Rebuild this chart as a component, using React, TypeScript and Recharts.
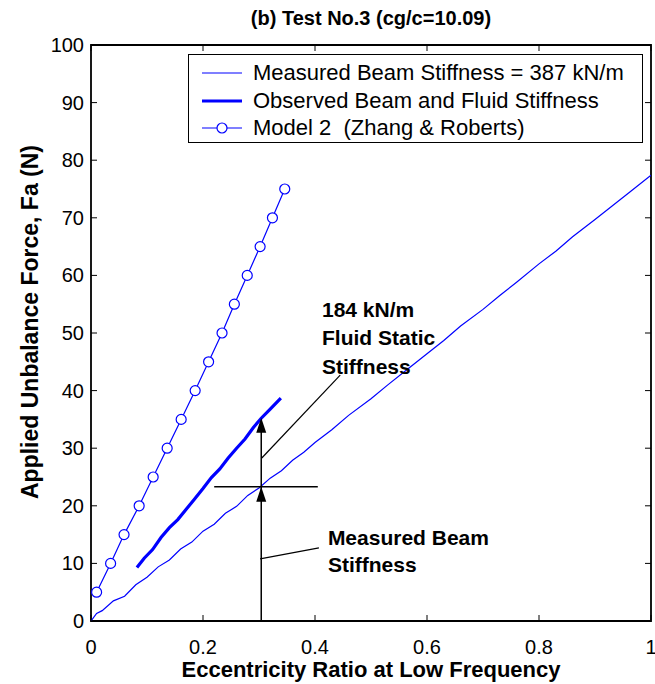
import React from 'react';
import { LineChart, Line, XAxis, YAxis, ReferenceArea, ReferenceLine, ReferenceDot } from 'recharts';

const W = 655;
const H = 684;
const PL = 91;
const PR = 651;
const PT = 45;
const PB = 621;
const FONT = "'Liberation Sans', Arial, Helvetica, sans-serif";
const BLUE = '#0000ff';

const titleText = '(b) Test No.3 (cg/c=10.09)';
const xLabelText = 'Eccentricity Ratio at Low Frequency';
const yLabelText = 'Applied Unbalance Force, Fa (N)';
const legendLabels = [
  'Measured Beam Stiffness = 387 kN/m',
  'Observed Beam and Fluid Stiffness',
  'Model 2  (Zhang & Roberts)',
];

const xTicks = [0, 0.2, 0.4, 0.6, 0.8, 1];
const yTicks = [0, 10, 20, 30, 40, 50, 60, 70, 80, 90, 100];

// Measured beam stiffness (thin line)
const measuredEcc = [0, 0.01, 0.02, 0.04, 0.06, 0.08, 0.1, 0.12, 0.14, 0.16, 0.18, 0.2, 0.22, 0.24, 0.26, 0.28, 0.3, 0.32, 0.34, 0.36, 0.38, 0.4, 0.43, 0.46, 0.5, 0.53, 0.56, 0.6, 0.63, 0.66, 0.7, 0.73, 0.76, 0.8, 0.83, 0.86, 0.9, 0.93, 0.96, 1.0];
const measuredForce = [0, 1.3, 1.8, 3.5, 4.3, 6.3, 7.6, 9.4, 10.6, 12.5, 13.7, 15.6, 16.8, 18.7, 19.9, 21.8, 23.1, 24.8, 26.1, 27.9, 29.3, 31.0, 33.2, 35.7, 38.6, 41.0, 43.3, 46.4, 48.7, 51.2, 54.1, 56.5, 58.8, 62.0, 64.2, 66.7, 69.7, 72.0, 74.3, 77.4];

// Observed beam and fluid stiffness (thick line)
const observedEcc = [0.082, 0.095, 0.11, 0.125, 0.14, 0.155, 0.17, 0.185, 0.2, 0.215, 0.23, 0.245, 0.26, 0.275, 0.29, 0.304, 0.32, 0.339];
const observedForce = [9.3, 10.9, 12.4, 14.5, 16.2, 17.6, 19.4, 21.2, 23.0, 24.9, 26.4, 28.3, 30.0, 31.6, 33.6, 35.2, 36.8, 38.7];

// Model 2 (Zhang & Roberts) with circle markers
const modelEcc = [0.01, 0.035, 0.059, 0.086, 0.111, 0.136, 0.161, 0.186, 0.21, 0.234, 0.256, 0.279, 0.302, 0.324, 0.346];
const modelForce = [5, 10, 15, 20, 25, 30, 35, 40, 45, 50, 55, 60, 65, 70, 75];

// annotation anchors (data coordinates)
const arrowEcc = 0.304;
const crossForce = 23.3;
const topForce = 35.3;
const hLineEcc = [0.22, 0.405];
const fluidLeader = [{ x: 0.305, y: 28.3 }, { x: 0.445, y: 42.7 }];
const beamLeader = [{ x: 0.302, y: 10.8 }, { x: 0.407, y: 12.7 }];
const fluidText = ['184 kN/m', 'Fluid Static', 'Stiffness'];
const fluidTextAt = { x: 0.4125, y: 52.8 };
const beamText = ['Measured Beam', 'Stiffness'];
const beamTextAt = { x: 0.423, y: 13.2 };

const zip = (xs: number[], ys: number[]) => xs.map((x, i) => ({ x, y: ys[i] }));
const measuredData = zip(measuredEcc, measuredForce);
const observedData = zip(observedEcc, observedForce);
const modelData = zip(modelEcc, modelForce);

const XTick = (p: any) => {
  const x = p.x;
  const v = p.payload.value;
  return (
    <g>
      <line x1={x} x2={x} y1={PB} y2={PB - 6} stroke="#000" strokeWidth={1} />
      <line x1={x} x2={x} y1={PT} y2={PT + 6} stroke="#000" strokeWidth={1} />
      <text x={x} y={654} textAnchor="middle" fontSize={20} fontFamily={FONT} fill="#000">
        {String(v)}
      </text>
    </g>
  );
};

const YTick = (p: any) => {
  const y = p.y;
  const v = p.payload.value;
  return (
    <g>
      <line x1={PL} x2={PL + 6} y1={y} y2={y} stroke="#000" strokeWidth={1} />
      <line x1={PR} x2={PR - 6} y1={y} y2={y} stroke="#000" strokeWidth={1} />
      <text x={84} y={y + 7} textAnchor="end" fontSize={20} fontFamily={FONT} fill="#000">
        {String(v)}
      </text>
    </g>
  );
};

const ArrowHead = (p: any) => (
  <path d={`M${p.cx},${p.cy} L${p.cx - 5},${p.cy + 15} L${p.cx + 5},${p.cy + 15} Z`} fill="#000" />
);

const MultiText = (lines: string[], gap: number) => (p: any) => (
  <text x={p.cx} y={p.cy} fontSize={21} fontWeight="bold" fontFamily={FONT} fill="#000">
    {lines.map((l, i) => (
      <tspan key={i} x={p.cx} dy={i === 0 ? 0 : gap}>
        {l}
      </tspan>
    ))}
  </text>
);

const CircleDot = (p: any) => (
  <circle cx={p.cx} cy={p.cy} r={5} fill="#fff" stroke={BLUE} strokeWidth={1.2} />
);

const LegendBox = () => {
  const rows = [18, 46, 73];
  return (
    <div
      style={{
        position: 'absolute',
        left: 188,
        top: 54,
        width: 455,
        height: 89,
        boxSizing: 'border-box',
        border: '1.6px solid #000',
        background: '#fff',
        fontFamily: FONT,
        fontSize: 22,
        color: '#000',
      }}
    >
      {legendLabels.map((lab, i) => (
        <div key={i} style={{ position: 'absolute', left: 0, top: rows[i] - 13, height: 26, width: 450 }}>
          <svg width={60} height={26} style={{ position: 'absolute', left: 0, top: 0 }}>
            <line x1={13} x2={53} y1={13} y2={13} stroke={BLUE} strokeWidth={i === 1 ? 3 : 1.2} />
            {i === 2 && <circle cx={33} cy={13} r={5} fill="#fff" stroke={BLUE} strokeWidth={1.2} />}
          </svg>
          <span style={{ position: 'absolute', left: 64, top: 0, lineHeight: '26px', whiteSpace: 'pre' }}>{lab}</span>
        </div>
      ))}
    </div>
  );
};

export default function App() {
  return (
    <div style={{ position: 'absolute', left: 0, top: 0, width: W, height: H, background: '#fff' }}>
      <LineChart width={W} height={H} margin={{ top: PT, right: W - PR, left: PL - 40, bottom: H - PB - 30 }}>
        <XAxis
          dataKey="x"
          type="number"
          domain={[0, 1]}
          ticks={xTicks}
          interval={0}
          allowDataOverflow
          axisLine={false}
          tickLine={false}
          height={30}
          tick={<XTick />}
        />
        <YAxis
          type="number"
          domain={[0, 100]}
          ticks={yTicks}
          interval={0}
          allowDataOverflow
          axisLine={false}
          tickLine={false}
          width={40}
          tick={<YTick />}
        />
        <ReferenceArea x1={0} x2={1} y1={0} y2={100} fill="none" stroke="#000" strokeWidth={1.8} fillOpacity={0} />
        <Line data={measuredData} dataKey="y" stroke={BLUE} strokeWidth={1.2} dot={false} isAnimationActive={false} />
        <Line data={observedData} dataKey="y" stroke={BLUE} strokeWidth={3.2} dot={false} isAnimationActive={false} />
        <Line data={modelData} dataKey="y" stroke={BLUE} strokeWidth={1.2} dot={<CircleDot />} isAnimationActive={false} />
        <ReferenceLine segment={[{ x: arrowEcc, y: 0 }, { x: arrowEcc, y: topForce - 1 }]} stroke="#000" strokeWidth={1.5} />
        <ReferenceLine segment={[{ x: hLineEcc[0], y: crossForce }, { x: hLineEcc[1], y: crossForce }]} stroke="#000" strokeWidth={1.5} />
        <ReferenceLine segment={fluidLeader} stroke="#000" strokeWidth={1.2} />
        <ReferenceLine segment={beamLeader} stroke="#000" strokeWidth={1.2} />
        <ReferenceDot x={arrowEcc} y={crossForce} r={0} shape={<ArrowHead />} />
        <ReferenceDot x={arrowEcc} y={topForce} r={0} shape={<ArrowHead />} />
        <ReferenceDot x={fluidTextAt.x} y={fluidTextAt.y} r={0} shape={MultiText(fluidText, 28.5)} />
        <ReferenceDot x={beamTextAt.x} y={beamTextAt.y} r={0} shape={MultiText(beamText, 27)} />
      </LineChart>
      <svg width={W} height={H} style={{ position: 'absolute', left: 0, top: 0, pointerEvents: 'none' }}>
        <text x={371} y={25} textAnchor="middle" fontSize={20} fontWeight="bold" fontFamily={FONT} fill="#000">
          {titleText}
        </text>
        <text x={371} y={677} textAnchor="middle" fontSize={22} fontWeight="bold" fontFamily={FONT} fill="#000">
          {xLabelText}
        </text>
        <text
          x={38}
          y={322}
          transform="rotate(-90 38 322)"
          textAnchor="middle"
          fontSize={23}
          fontWeight="bold"
          fontFamily={FONT}
          fill="#000"
        >
          {yLabelText}
        </text>
      </svg>
      <LegendBox />
    </div>
  );
}
